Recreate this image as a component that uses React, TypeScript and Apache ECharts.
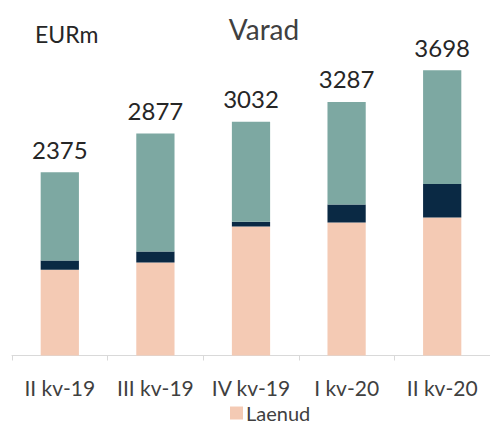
import React, { useEffect, useRef } from "react";
import * as echarts from "echarts";

const categories = ["II kv-19", "III kv-19", "IV kv-19", "I kv-20", "II kv-20"];
const laenud = [1111, 1207, 1674, 1725, 1790];
const middle = [122, 142, 60, 233, 435];
const other = [1142, 1528, 1298, 1329, 1473];
const totals = [2375, 2877, 3032, 3287, 3698];

const FONT = "Lato, 'Open Sans', sans-serif";

export default function App() {
  const ref = useRef<HTMLDivElement>(null);
  useEffect(() => {
    if (!ref.current) return;
    const chart = echarts.init(ref.current, null, { renderer: "svg" });
    chart.setOption({
      animation: false,
      backgroundColor: "#ffffff",
      textStyle: { fontFamily: FONT },
      graphic: [
        {
          type: "text",
          left: 35,
          top: 22,
          style: { text: "EURm", font: `23px ${FONT}`, fill: "#262626" },
        },
        {
          type: "text",
          x: 264,
          y: 29,
          style: {
            text: "Varad",
            font: `28px ${FONT}`,
            fill: "#404040",
            align: "center",
            verticalAlign: "middle",
          },
        },
      ],
      legend: {
        data: ["Laenud"],
        left: 230,
        top: 402,
        padding: 0,
        itemWidth: 13,
        itemHeight: 13,
        itemGap: 6,
        textStyle: {
          fontFamily: FONT,
          fontSize: 20,
          lineHeight: 22,
          color: "#404040",
          padding: [0, 0, 0, -2],
        },
        icon: "rect",
      },
      grid: { left: 12, top: 47, width: 489, height: 308.5 },
      xAxis: {
        type: "category",
        data: categories,
        axisLine: { lineStyle: { color: "#D9D9D9", width: 1 } },
        axisTick: { show: true, length: 5, lineStyle: { color: "#D9D9D9" } },
        axisLabel: {
          color: "#404040",
          fontFamily: FONT,
          fontSize: 21,
          margin: 21,
          interval: 0,
        },
      },
      yAxis: {
        type: "value",
        min: 0,
        max: 4000,
        show: false,
        splitLine: { show: false },
      },
      series: [
        {
          name: "Laenud",
          type: "bar",
          stack: "a",
          barWidth: "40%",
          data: laenud,
          itemStyle: { color: "#F4CAB4" },
        },
        {
          name: "Muu1",
          type: "bar",
          stack: "a",
          data: middle,
          itemStyle: { color: "#0A2944" },
        },
        {
          name: "Muu2",
          type: "bar",
          stack: "a",
          data: other,
          itemStyle: { color: "#7DA8A2" },
          label: {
            show: true,
            position: "top",
            distance: 11,
            fontFamily: FONT,
            fontSize: 24,
            color: "#262626",
            formatter: (p: any) => String(totals[p.dataIndex]),
          },
        },
      ],
    });
    return () => chart.dispose();
  }, []);
  return (
    <div
      ref={ref}
      style={{ position: "fixed", left: 0, top: 0, width: 490, height: 430 }}
    />
  );
}
